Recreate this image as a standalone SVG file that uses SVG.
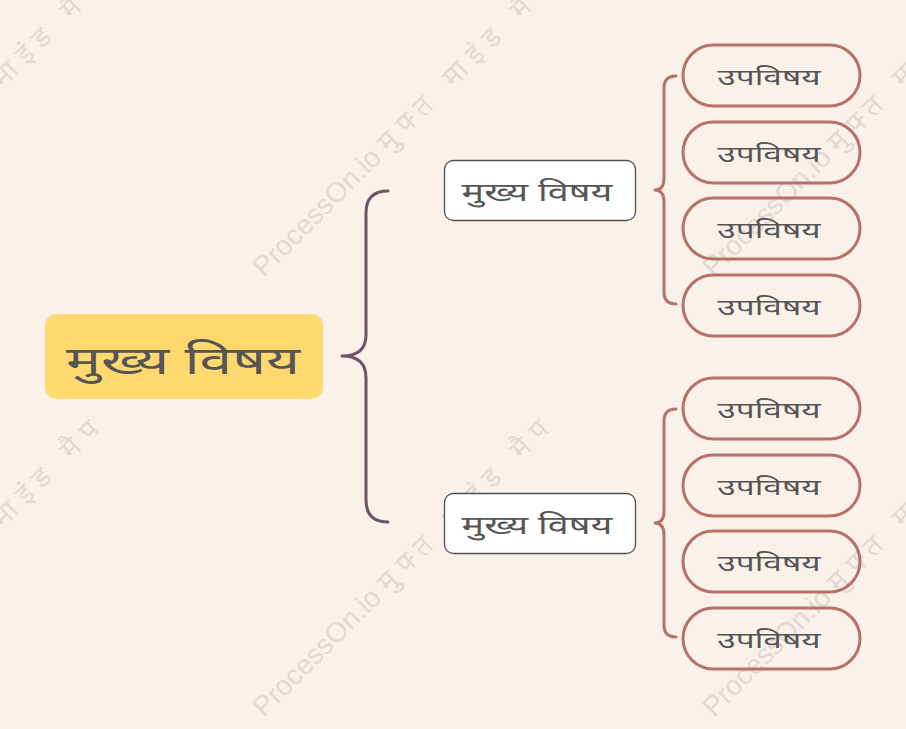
<svg xmlns="http://www.w3.org/2000/svg" width="906" height="729" viewBox="0 0 906 729">
<style>
.wm{font-family:"Liberation Sans","Noto Sans",sans-serif;font-size:28px;fill:#e0dad3;}
.wm tspan{letter-spacing:9px;}
.t{font-family:"Noto Sans","Liberation Sans","DejaVu Sans",sans-serif;fill:#555555;text-anchor:middle;dominant-baseline:central;}
.sub rect{fill:none;stroke:#b7716a;stroke-width:3;}
.sub text{font-size:22px;}
.l1 rect{fill:#ffffff;stroke:#505050;stroke-width:1.3;}
.l1 text{font-size:25px;}
.br{fill:none;stroke-width:3;stroke-linecap:round;stroke-linejoin:round;}
</style>
<rect width="906" height="729" fill="#faf1e9"/>
<g id="watermarks">
<text class="wm" transform="translate(-186,278) rotate(-45)">ProcessOn.io <tspan>मुफ्त माइंड मैप</tspan></text>
<text class="wm" transform="translate(264,278) rotate(-45)">ProcessOn.io <tspan>मुफ्त माइंड मैप</tspan></text>
<text class="wm" transform="translate(714,278) rotate(-45)">ProcessOn.io <tspan>मुफ्त माइंड मैप</tspan></text>
<text class="wm" transform="translate(-186,718) rotate(-45)">ProcessOn.io <tspan>मुफ्त माइंड मैप</tspan></text>
<text class="wm" transform="translate(264,718) rotate(-45)">ProcessOn.io <tspan>मुफ्त माइंड मैप</tspan></text>
<text class="wm" transform="translate(714,718) rotate(-45)">ProcessOn.io <tspan>मुफ्त माइंड मैप</tspan></text>
</g>
<g id="connectors">
<path class="br" stroke="#6e5566" d="M388,191 Q366,191 366,213 L366,335 Q366,356 342,356 Q366,356 366,378 L366,500 Q366,522 388,522"/>
<path class="br" stroke="#b7716a" d="M676,76 Q664,76 664,88 L664,178 Q664,190 655,190 Q664,190 664,202 L664,292 Q664,304 676,304"/>
<path class="br" stroke="#b7716a" d="M676,409 Q664,409 664,421 L664,511 Q664,523 655,523 Q664,523 664,535 L664,625 Q664,637 676,637"/>
</g>
<g id="root">
<rect x="45" y="314" width="278" height="85" rx="12" fill="#ffd970"/>
<text class="t" transform="translate(183,359) scale(1.54,1)" font-size="38">मुख्य विषय</text>
</g>
<g id="topic1" class="l1">
<rect x="444.5" y="160.5" width="191" height="60" rx="9"/>
<text class="t" transform="translate(537,191) scale(1.51,1)">मुख्य विषय</text>
</g>
<g id="topic2" class="l1">
<rect x="444.5" y="493.5" width="191" height="60" rx="9"/>
<text class="t" transform="translate(537,524) scale(1.51,1)">मुख्य विषय</text>
</g>
<g id="sub1" class="sub"><rect x="683" y="45" width="177" height="61" rx="30.5"/><text class="t" transform="translate(769,76) scale(1.52,1)">उपविषय</text></g>
<g id="sub2" class="sub"><rect x="683" y="122" width="177" height="61" rx="30.5"/><text class="t" transform="translate(769,153) scale(1.52,1)">उपविषय</text></g>
<g id="sub3" class="sub"><rect x="683" y="198" width="177" height="61" rx="30.5"/><text class="t" transform="translate(769,229) scale(1.52,1)">उपविषय</text></g>
<g id="sub4" class="sub"><rect x="683" y="275" width="177" height="61" rx="30.5"/><text class="t" transform="translate(769,306) scale(1.52,1)">उपविषय</text></g>
<g id="sub5" class="sub"><rect x="683" y="378" width="177" height="61" rx="30.5"/><text class="t" transform="translate(769,409) scale(1.52,1)">उपविषय</text></g>
<g id="sub6" class="sub"><rect x="683" y="455" width="177" height="61" rx="30.5"/><text class="t" transform="translate(769,486) scale(1.52,1)">उपविषय</text></g>
<g id="sub7" class="sub"><rect x="683" y="531" width="177" height="61" rx="30.5"/><text class="t" transform="translate(769,562) scale(1.52,1)">उपविषय</text></g>
<g id="sub8" class="sub"><rect x="683" y="608" width="177" height="61" rx="30.5"/><text class="t" transform="translate(769,639) scale(1.52,1)">उपविषय</text></g>
</svg>
